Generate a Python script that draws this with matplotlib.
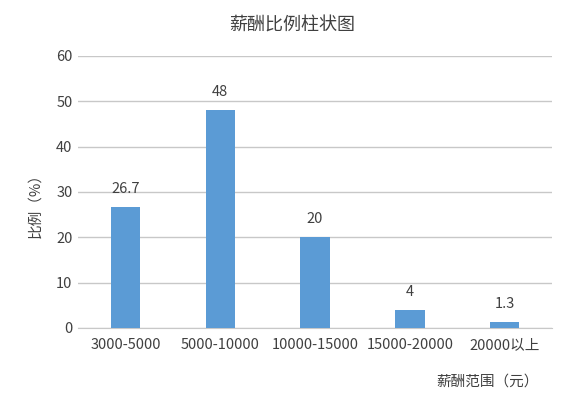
import matplotlib.pyplot as plt

plt.rcParams['font.family'] = ['Noto Sans CJK SC', 'DejaVu Sans']

categories = ['3000-5000', '5000-10000', '10000-15000', '15000-20000', '20000以上']
values = [26.7, 48, 20, 4, 1.3]
value_labels = ['26.7', '48', '20', '4', '1.3']
yticks = [0, 10, 20, 30, 40, 50, 60]

text_color = '#404040'
bar_color = '#5B9BD5'
grid_color = '#C8C8C8'

fig = plt.figure(figsize=(5.87, 3.97), dpi=100)
ax = fig.add_axes([0.133, 0.174, 0.8075, 0.685])

x = range(len(categories))
bars = ax.bar(x, values, width=0.31, color=bar_color, zorder=3)
for b, lab in zip(bars, value_labels):
    ax.text(b.get_x() + b.get_width() / 2, b.get_height() + 4.0, lab,
            ha='center', va='center', fontsize=10.5, color=text_color)

ax.set_xlim(-0.5, len(categories) - 0.5)
ax.set_ylim(0, 60)
ax.set_yticks(yticks)
ax.set_xticks(list(x))
ax.set_xticklabels(categories)
ax.tick_params(axis='both', length=0, labelsize=10.5, colors=text_color)
ax.tick_params(axis='x', pad=7)
ax.tick_params(axis='y', pad=4)
ax.yaxis.grid(True, color=grid_color, linewidth=1, zorder=0)
for side in ['top', 'right', 'left']:
    ax.spines[side].set_visible(False)
ax.spines['bottom'].set_color(grid_color)

fig.text(0.06, 0.49, '比例（%）', ha='center', va='center', rotation=90,
         fontsize=10.5, color=text_color)
fig.text(0.831, 0.04, '薪酬范围（元）', ha='center', va='center',
         fontsize=10.5, color=text_color)
fig.text(0.497, 0.935, '薪酬比例柱状图', ha='center', va='center',
         fontsize=13, color=text_color)

fig.savefig('out.png', dpi=100)
